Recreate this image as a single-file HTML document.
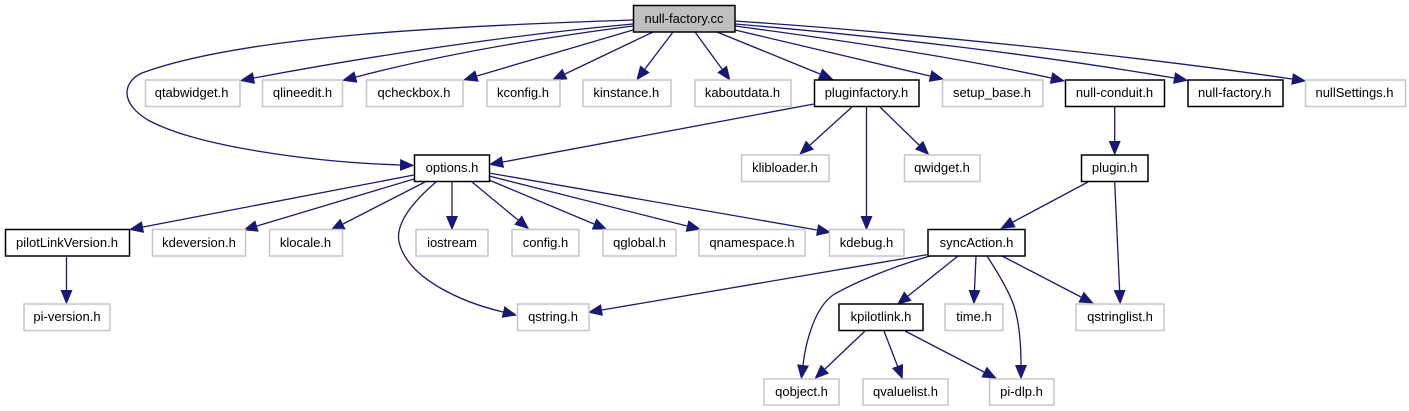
<!DOCTYPE html>
<html>
<head>
<meta charset="utf-8">
<title>null-factory.cc</title>
<style>
html,body{margin:0;padding:0;background:#fff;width:1409px;height:411px;overflow:hidden}
svg{display:block}
text{font-family:"Liberation Sans",Arial,sans-serif;font-size:13px;fill:#000;text-anchor:middle}
.b rect{fill:#fff;stroke:#000;stroke-width:1.5}
.g rect{fill:#fff;stroke:#c6c6c6;stroke-width:1.5}
.r rect{fill:#bfbfbf;stroke:#000;stroke-width:1.5}
.e path{fill:none;stroke:#191970;stroke-width:1.3;marker-end:url(#a)}
</style>
</head>
<body>
<svg width="1409" height="411" viewBox="0 0 1409 411" xmlns="http://www.w3.org/2000/svg">
<defs>
<marker id="a" markerUnits="userSpaceOnUse" markerWidth="16" markerHeight="14" refX="0" refY="7" orient="auto">
<path d="M0,1 L14.5,7 L0,13 Z" fill="#191970"/>
</marker>
</defs>
<g class="e">
<path d="M633,20 C450,26 242,36 142,73 C133,77 127,84 127,93 C127,103 136,113 148,120 C195,146 310,162 400,165"/>
<path d="M633,24 C500,36 360,58 254,78"/>
<path d="M633,26 C540,38 440,55 356,77"/>
<path d="M633,30 L477,76"/>
<path d="M653,32 L565,74"/>
<path d="M673,32 L645,69"/>
<path d="M695,32 L722,69"/>
<path d="M717,32 L820,74"/>
<path d="M735,30 L930,76"/>
<path d="M735,26 C840,40 960,58 1051,78"/>
<path d="M735,24 C880,36 1040,55 1174,78"/>
<path d="M735,21 C900,32 1130,55 1292,79"/>
<path d="M814,104 L503,162"/>
<path d="M852,107 L810,145"/>
<path d="M866.5,107 L866.5,216"/>
<path d="M880,107 L919,145"/>
<path d="M1114.7,107 L1114.7,141"/>
<path d="M1088,182 L1013,222"/>
<path d="M1114.7,182 L1119.6,290"/>
<path d="M414,175 L143,227"/>
<path d="M414,179 L257,226"/>
<path d="M425,182 L343,224"/>
<path d="M436,182 C415,200 395,222 399,242 C408,280 465,303 503,312"/>
<path d="M452,182 L452,216"/>
<path d="M472,182 L518,220"/>
<path d="M489,180 L594,224"/>
<path d="M489,176 L687,226"/>
<path d="M489,173 L817,230"/>
<path d="M66.5,256 L66.5,290"/>
<path d="M928,254.5 C860,267 730,288 602,310"/>
<path d="M930,256 C895,266 855,282 833,295 C815,308 806,340 803,365"/>
<path d="M958,256 L908,296"/>
<path d="M976,256 L974.5,290"/>
<path d="M987,256 C1000,276 1010,294 1014,306 C1019,322 1021,345 1021,365"/>
<path d="M1002,256 L1081,297"/>
<path d="M865,331 L825,369"/>
<path d="M884,331 L897.5,366"/>
<path d="M905,331 L984,372"/>
</g>

<g class="r"><rect x="633.5" y="5.5" width="101.5" height="26.5"/><text x="684" y="23" textLength="79" lengthAdjust="spacing">null-factory.cc</text></g>

<g class="g"><rect x="145.5" y="80" width="94.5" height="26.5"/><text x="191.6" y="97">qtabwidget.h</text></g>
<g class="g"><rect x="262.5" y="80" width="80" height="26.5"/><text x="302.5" y="97">qlineedit.h</text></g>
<g class="g"><rect x="366.5" y="80" width="96.5" height="26.5"/><text x="414" y="97">qcheckbox.h</text></g>
<g class="g"><rect x="487" y="80" width="73" height="26.5"/><text x="523" y="97">kconfig.h</text></g>
<g class="g"><rect x="583" y="80" width="88" height="26.5"/><text x="626.3" y="97">kinstance.h</text></g>
<g class="g"><rect x="695" y="80" width="96" height="26.5"/><text x="742.5" y="97">kaboutdata.h</text></g>
<g class="b"><rect x="814.5" y="80" width="104.5" height="26.5"/><text x="866.5" y="97">pluginfactory.h</text></g>
<g class="g"><rect x="942.5" y="80" width="100.5" height="26.5"/><text x="992" y="97">setup_base.h</text></g>
<g class="b"><rect x="1065.5" y="80" width="99" height="26.5"/><text x="1114.5" y="97">null-conduit.h</text></g>
<g class="b"><rect x="1188" y="80" width="95" height="26.5"/><text x="1234.7" y="97">null-factory.h</text></g>
<g class="g"><rect x="1305.5" y="80" width="100" height="26.5"/><text x="1354.5" y="97">nullSettings.h</text></g>

<g class="b"><rect x="414.5" y="155" width="75" height="26.5"/><text x="452" y="172">options.h</text></g>
<g class="g"><rect x="741.5" y="155" width="87.5" height="26.5"/><text x="785" y="172">klibloader.h</text></g>
<g class="g"><rect x="904.5" y="155" width="75.5" height="26.5"/><text x="942" y="172">qwidget.h</text></g>
<g class="b"><rect x="1081.5" y="155" width="66.5" height="26.5"/><text x="1114.7" y="172">plugin.h</text></g>

<g class="b"><rect x="5.5" y="229.5" width="124" height="26.5"/><text x="67" y="247">pilotLinkVersion.h</text></g>
<g class="g"><rect x="152.5" y="229.5" width="93" height="26.5"/><text x="199" y="247">kdeversion.h</text></g>
<g class="g"><rect x="269.5" y="229.5" width="73" height="26.5"/><text x="305.5" y="247">klocale.h</text></g>
<g class="g"><rect x="416" y="229.5" width="72" height="26.5"/><text x="452" y="247">iostream</text></g>
<g class="g"><rect x="512" y="229.5" width="67" height="26.5"/><text x="545.5" y="247">config.h</text></g>
<g class="g"><rect x="603" y="229.5" width="73" height="26.5"/><text x="639.5" y="247">qglobal.h</text></g>
<g class="g"><rect x="699" y="229.5" width="106" height="26.5"/><text x="752" y="247">qnamespace.h</text></g>
<g class="g"><rect x="829.5" y="229.5" width="74.5" height="26.5"/><text x="866.5" y="247">kdebug.h</text></g>
<g class="b"><rect x="928" y="229.5" width="97" height="26.5"/><text x="976.5" y="247">syncAction.h</text></g>

<g class="g"><rect x="24" y="304" width="86" height="26.5"/><text x="67" y="321">pi-version.h</text></g>
<g class="g"><rect x="517.5" y="304" width="71.5" height="26.5"/><text x="553" y="321">qstring.h</text></g>
<g class="b"><rect x="839" y="304" width="84" height="26.5"/><text x="881" y="321">kpilotlink.h</text></g>
<g class="g"><rect x="945" y="304" width="58" height="26.5"/><text x="974" y="321">time.h</text></g>
<g class="g"><rect x="1076" y="304" width="88" height="26.5"/><text x="1120" y="321">qstringlist.h</text></g>

<g class="g"><rect x="764" y="379" width="75" height="26"/><text x="801.5" y="396">qobject.h</text></g>
<g class="g"><rect x="863" y="379" width="85" height="26"/><text x="905.5" y="396">qvaluelist.h</text></g>
<g class="g"><rect x="989.5" y="379" width="64.5" height="26"/><text x="1021.5" y="396">pi-dlp.h</text></g>
</svg>
</body>
</html>
